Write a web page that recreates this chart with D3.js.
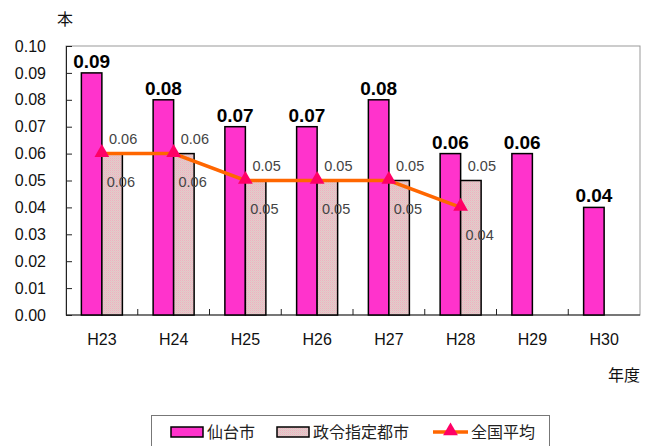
<!DOCTYPE html>
<html lang="ja">
<head>
<meta charset="utf-8">
<title>本数の推移</title>
<script src="https://d3js.org/d3.v7.min.js"></script>
<style>
  body { margin: 0; background: #fff; }
  text { font-family: "Liberation Sans", Arial, sans-serif; }
  .jp { font-family: "Noto Sans CJK JP", sans-serif; }
</style>
</head>
<body>
<div id="chart"></div>
<script>
// data
var years = ["H23", "H24", "H25", "H26", "H27", "H28", "H29", "H30"];
var sendai = [0.09, 0.08, 0.07, 0.07, 0.08, 0.06, 0.06, 0.04];
var seirei = [0.06, 0.06, 0.05, 0.05, 0.05, 0.05, null, null];
var zenkoku = [0.06, 0.06, 0.05, 0.05, 0.05, 0.04, null, null];
var yTicks = [0, 0.01, 0.02, 0.03, 0.04, 0.05, 0.06, 0.07, 0.08, 0.09, 0.10];
var legendNames = ["仙台市", "政令指定都市", "全国平均"];

var W = 659, H = 446;
var m = { left: 66, right: 19, top: 46, bottom: 131 };

var svg = d3.select("#chart").append("svg")
  .attr("width", W).attr("height", H);

// dotted fill for the 政令指定都市 bars
var pat = svg.append("defs").append("pattern")
  .attr("id", "dots").attr("width", 2).attr("height", 2)
  .attr("patternUnits", "userSpaceOnUse");
pat.append("rect").attr("width", 2).attr("height", 2).attr("fill", "#e8c8c8");
pat.append("rect").attr("width", 1).attr("height", 1).attr("fill", "#eab4c2");
pat.append("rect").attr("x", 1).attr("y", 1).attr("width", 1).attr("height", 1).attr("fill", "#dcc8c8");

var x = d3.scaleBand().domain(years).range([m.left, W - m.right]);
var y = d3.scaleLinear().domain([0, 0.10]).range([H - m.bottom, m.top]);
var bw = 20.5;

// plot frame
svg.append("rect")
  .attr("x", m.left).attr("y", m.top)
  .attr("width", W - m.left - m.right).attr("height", H - m.top - m.bottom)
  .attr("fill", "none").attr("stroke", "#999").attr("stroke-width", 1);

// y axis (ticks inside)
var yAxis = svg.append("g")
  .attr("transform", "translate(" + m.left + ",0)")
  .call(d3.axisRight(y).tickValues(yTicks).tickSize(6).tickFormat(d3.format(".2f")));
yAxis.select(".domain").attr("stroke", "#222");
yAxis.selectAll(".tick line").attr("stroke", "#222");
yAxis.selectAll(".tick text")
  .attr("x", -20).attr("text-anchor", "end")
  .attr("font-size", 16).attr("fill", "#111")
  .attr("font-family", "Liberation Sans, Arial, sans-serif");

// x axis, ticks between categories pointing up
var xAxis = svg.append("g").attr("transform", "translate(0," + (H - m.bottom) + ")");
xAxis.append("line")
  .attr("x1", m.left).attr("x2", W - m.right)
  .attr("stroke", "#222").attr("stroke-width", 1.2);
xAxis.selectAll(".sep").data(years.slice(1)).enter().append("line")
  .attr("x1", function (d) { return x(d); }).attr("x2", function (d) { return x(d); })
  .attr("y1", 0).attr("y2", -6).attr("stroke", "#222");
xAxis.selectAll(".lab").data(years).enter().append("text")
  .attr("x", function (d) { return x(d) + x.bandwidth() / 2; })
  .attr("y", 30).attr("text-anchor", "middle")
  .attr("font-size", 16).attr("fill", "#111")
  .text(function (d) { return d; });

// 仙台市 bars
svg.selectAll(".sendai").data(sendai).enter().append("rect")
  .attr("x", function (d, i) { return x(years[i]) + x.bandwidth() / 2 - bw; })
  .attr("y", function (d) { return y(d); })
  .attr("width", bw)
  .attr("height", function (d) { return y(0) - y(d); })
  .attr("fill", "#ff33cc").attr("stroke", "#000").attr("stroke-width", 1.5);

// 政令指定都市 bars
svg.selectAll(".seirei").data(seirei).enter().filter(function (d) { return d != null; })
  .append("rect")
  .attr("x", function (d, i) { return x(years[i]) + x.bandwidth() / 2; })
  .attr("y", function (d) { return y(d); })
  .attr("width", bw)
  .attr("height", function (d) { return y(0) - y(d); })
  .attr("fill", "url(#dots)").attr("stroke", "#000").attr("stroke-width", 1.5);

// 全国平均 line
var pts = zenkoku.map(function (v, i) { return { v: v, yr: years[i] }; })
  .filter(function (d) { return d.v != null; });
var line = d3.line()
  .x(function (d) { return x(d.yr) + x.bandwidth() / 2; })
  .y(function (d) { return y(d.v); });
svg.append("path").datum(pts)
  .attr("d", line).attr("fill", "none")
  .attr("stroke", "#ff6600").attr("stroke-width", 3.5);
var tri = d3.symbol().type(d3.symbolTriangle).size(95);
svg.selectAll(".tri").data(pts).enter().append("path")
  .attr("d", tri)
  .attr("transform", function (d) { return "translate(" + (x(d.yr) + x.bandwidth() / 2) + "," + (y(d.v) - 1) + ")"; })
  .attr("fill", "#ff0066");

// labels
svg.selectAll(".lbS").data(sendai).enter().append("text")
  .attr("x", function (d, i) { return x(years[i]) + x.bandwidth() / 2 - bw / 2; })
  .attr("y", function (d) { return y(d) - 5; })
  .attr("text-anchor", "middle").attr("font-size", 19).attr("font-weight", "bold")
  .attr("fill", "#000")
  .text(function (d) { return d.toFixed(2); });

svg.selectAll(".lbR").data(seirei).enter().filter(function (d) { return d != null; })
  .append("text")
  .attr("x", function (d, i) { return x(years[i]) + x.bandwidth() / 2 + bw / 2 + 11; })
  .attr("y", function (d) { return y(d) - 10; })
  .attr("text-anchor", "middle").attr("font-size", 14.5).attr("fill", "#444")
  .text(function (d) { return d.toFixed(2); });

svg.selectAll(".lbZ").data(pts).enter().append("text")
  .attr("x", function (d) { return x(d.yr) + x.bandwidth() / 2 + 19; })
  .attr("y", function (d) { return y(d.v) + 33; })
  .attr("text-anchor", "middle").attr("font-size", 14.5).attr("fill", "#444")
  .text(function (d) { return d.v.toFixed(2); });

// unit labels
svg.append("text").attr("class", "jp")
  .attr("x", 65).attr("y", 25).attr("text-anchor", "middle")
  .attr("font-size", 16).attr("fill", "#111").text("本");
svg.append("text").attr("class", "jp")
  .attr("x", 608).attr("y", 381)
  .attr("font-size", 16).attr("fill", "#111").text("年度");

// legend
var lg = svg.append("g");
lg.append("rect")
  .attr("x", 151.5).attr("y", 415.5).attr("width", 398).attr("height", 40)
  .attr("fill", "#fff").attr("stroke", "#777");
var lgItems = [
  { sx: 171, tx: 207, kind: "bar", fill: "#ff33cc" },
  { sx: 277, tx: 313, kind: "bar", fill: "url(#dots)" },
  { sx: 433, tx: 471, kind: "line" }
];
lgItems.forEach(function (it, i) {
  if (it.kind === "bar") {
    lg.append("rect").attr("x", it.sx).attr("y", 427).attr("width", 32).attr("height", 10)
      .attr("fill", it.fill).attr("stroke", "#000").attr("stroke-width", 1.5);
  } else {
    lg.append("line").attr("x1", it.sx).attr("x2", it.sx + 35).attr("y1", 432).attr("y2", 432)
      .attr("stroke", "#ff6600").attr("stroke-width", 3.5);
    lg.append("path").attr("d", tri)
      .attr("transform", "translate(" + (it.sx + 17.5) + ",431)").attr("fill", "#ff0066");
  }
  lg.append("text").attr("class", "jp")
    .attr("x", it.tx).attr("y", 438)
    .attr("font-size", 16).attr("fill", "#222").text(legendNames[i]);
});
</script>
</body>
</html>
